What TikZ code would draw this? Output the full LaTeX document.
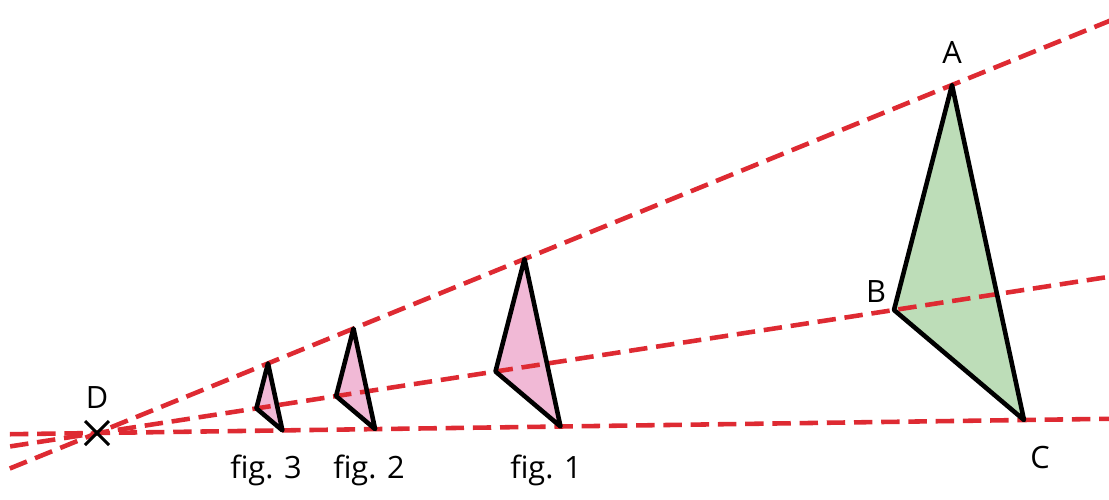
\documentclass[tikz,border=0pt]{standalone}
\usepackage{fontspec}
\setmainfont{Open Sans}
\usetikzlibrary{calc}
\definecolor{rayred}{HTML}{DE2A32}
\definecolor{bigfill}{HTML}{BDDDB8}
\definecolor{smallfill}{HTML}{F1B9D6}
\tikzset{
  ray/.style={rayred, line width=2.6pt, dash pattern=on 10.5pt off 5pt},
  tri/.style={black, line width=2.6pt, line join=round},
  lbl/.style={font=\fontsize{17.5}{21}\selectfont, inner sep=0pt}
}
\begin{document}
\begin{tikzpicture}[x=0.02cm, y=-0.02cm]
\useasboundingbox (0,0) rectangle (1109,500);
\clip (0,0) rectangle (1109,500);
% centre and big triangle
\coordinate (D) at (97,433);
\coordinate (A) at (952,85);
\coordinate (B) at (894,310);
\coordinate (C) at (1024,420);
% scaled triangles
\foreach \n/\s in {1/0.5, 2/0.3, 3/0.2} {
  \coordinate (A\n) at ($(D)!\s!(A)$);
  \coordinate (B\n) at ($(D)!\s!(B)$);
  \coordinate (C\n) at ($(D)!\s!(C)$);
}
% ray ends
\coordinate (Al) at ($(D)!-0.102!(A)$);
\coordinate (Ar) at ($(D)!1.2!(A)$);
\coordinate (Bl) at ($(D)!-0.109!(B)$);
\coordinate (Br) at ($(D)!1.3!(B)$);
\coordinate (Cl) at ($(D)!-0.094!(C)$);
\coordinate (Cr) at ($(D)!1.12!(C)$);
% fills
\fill[bigfill] (A) -- (B) -- (C) -- cycle;
\foreach \n in {1,2,3} \fill[smallfill] (A\n) -- (B\n) -- (C\n) -- cycle;
% rays
\draw[ray] (Al) -- (Ar);
\draw[ray] (Bl) -- (Br);
\draw[ray] (Cl) -- (Cr);
% outlines
\draw[tri] (A) -- (B) -- (C) -- cycle;
\foreach \n in {1,2,3} \draw[tri] (A\n) -- (B\n) -- (C\n) -- cycle;
% cross at D
\draw[black, line width=1.8pt] ($(D)+(-12,-12)$) -- ($(D)+(12,12)$);
\draw[black, line width=1.8pt] ($(D)+(-12,12)$) -- ($(D)+(12,-12)$);
% labels
\node[lbl] (lA) at (952,52) {A};
\node[lbl] (lB) at (876,292) {B};
\node[lbl] (lC) at (1040,458) {C};
\node[lbl] (lD) at (97,398) {D};
\node[lbl] (f3) at (266,470) {fig. 3};
\node[lbl] (f2) at (369,470) {fig. 2};
\node[lbl] (f1) at (546,470) {fig. 1};
\end{tikzpicture}
\end{document}
